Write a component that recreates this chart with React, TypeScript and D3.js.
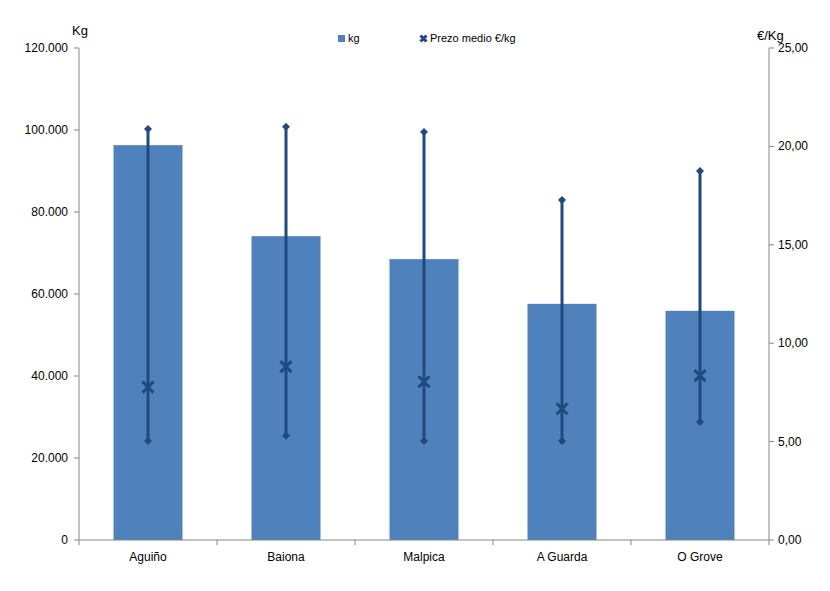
import * as d3 from 'd3';

const ports = ['Aguiño', 'Baiona', 'Malpica', 'A Guarda', 'O Grove'];
const kg = [96300, 74100, 68500, 57600, 55900];
const priceHigh = [20.88, 21.0, 20.73, 17.28, 18.75];
const priceLow = [5.03, 5.3, 5.03, 5.03, 6.0];
const priceAvg = [7.77, 8.81, 8.04, 6.67, 8.35];

const kgTicks = [0, 20000, 40000, 60000, 80000, 100000, 120000];
const priceTicks = [0, 5, 10, 15, 20, 25];

const W = 830;
const H = 591;
const left = 79;
const right = 769;
const top = 48;
const bottom = 540;

const barColor = '#4F81BD';
const lineColor = '#1F4A7E';
const axisColor = '#868686';
const font = '"Liberation Sans", Arial, sans-serif';

const fmtKg = (v: number) => (v === 0 ? '0' : d3.format(',')(v).replace(/,/g, '.'));
const fmtPrice = (v: number) => v.toFixed(2).replace('.', ',');

export default function App() {
    const x = d3.scaleBand<string>().domain(ports).range([left, right]).paddingInner(0.5).paddingOuter(0.25);
    const yKg = d3.scaleLinear().domain([0, 120000]).range([bottom, top]);
    const yPrice = d3.scaleLinear().domain([0, 25]).range([bottom, top]);
    const step = x.step();

    // rombo cadrado (o de d3 é alongado)
    const diamond = (cx: number, cy: number, s: number) =>
        `M${cx},${cy - s}L${cx + s},${cy}L${cx},${cy + s}L${cx - s},${cy}Z`;
    const cross = (cx: number, cy: number, s: number) =>
        `M${cx - s},${cy - s}L${cx + s},${cy + s}M${cx - s},${cy + s}L${cx + s},${cy - s}`;

    return (
        <svg width={W} height={H} style={{ position: 'absolute', left: 0, top: 0, background: '#fff' }} fontFamily={font}>
            <rect x={0} y={0} width={W} height={H} fill="#fff" />

            {/* barras kg */}
            {ports.map((p, i) => (
                <rect key={p} x={x(p)} y={yKg(kg[i])} width={x.bandwidth()} height={bottom - yKg(kg[i])} fill={barColor} />
            ))}

            {/* rango de prezos */}
            {ports.map((p, i) => {
                const cx = (x(p) as number) + x.bandwidth() / 2;
                return (
                    <g key={p}>
                        <line x1={cx} x2={cx} y1={yPrice(priceHigh[i])} y2={yPrice(priceLow[i])} stroke={lineColor} strokeWidth={3} />
                        <path d={diamond(cx, yPrice(priceHigh[i]), 4)} fill={lineColor} />
                        <path d={diamond(cx, yPrice(priceLow[i]), 4)} fill={lineColor} />
                        <path d={cross(cx, yPrice(priceAvg[i]), 5.5)} stroke={lineColor} strokeWidth={3} fill="none" />
                    </g>
                );
            })}

            {/* eixo esquerdo */}
            <line x1={left} x2={left} y1={top} y2={bottom} stroke={axisColor} />
            {kgTicks.map(t => (
                <g key={t}>
                    <line x1={left - 5} x2={left} y1={yKg(t)} y2={yKg(t)} stroke={axisColor} />
                    <text x={left - 11} y={yKg(t) + 4} textAnchor="end" fontSize={12} fill="#000">{fmtKg(t)}</text>
                </g>
            ))}
            <text x={72} y={35} fontSize={13} fill="#000">Kg</text>

            {/* eixo dereito */}
            <line x1={right} x2={right} y1={top} y2={bottom} stroke={axisColor} />
            {priceTicks.map(t => (
                <g key={t}>
                    <line x1={right} x2={right + 5} y1={yPrice(t)} y2={yPrice(t)} stroke={axisColor} />
                    <text x={right + 9} y={yPrice(t) + 4} textAnchor="start" fontSize={12} fill="#000">{fmtPrice(t)}</text>
                </g>
            ))}
            <text x={757} y={40} fontSize={13} fill="#000">€/Kg</text>

            {/* eixo x */}
            <line x1={left} x2={right} y1={bottom} y2={bottom} stroke={axisColor} />
            {d3.range(ports.length + 1).map(k => (
                <line key={k} x1={left + k * step} x2={left + k * step} y1={bottom} y2={bottom + 5} stroke={axisColor} />
            ))}
            {ports.map(p => (
                <text key={p} x={(x(p) as number) + x.bandwidth() / 2} y={561} textAnchor="middle" fontSize={12} fill="#000">{p}</text>
            ))}

            {/* lenda */}
            <rect x={338} y={35} width={7} height={7} fill={barColor} />
            <text x={348} y={42} fontSize={11} fill="#000">kg</text>
            <path d={cross(423.5, 38.5, 3)} stroke={lineColor} strokeWidth={3} fill="none" />
            <text x={430} y={42} fontSize={11} fill="#000">Prezo medio €/kg</text>
        </svg>
    );
}
